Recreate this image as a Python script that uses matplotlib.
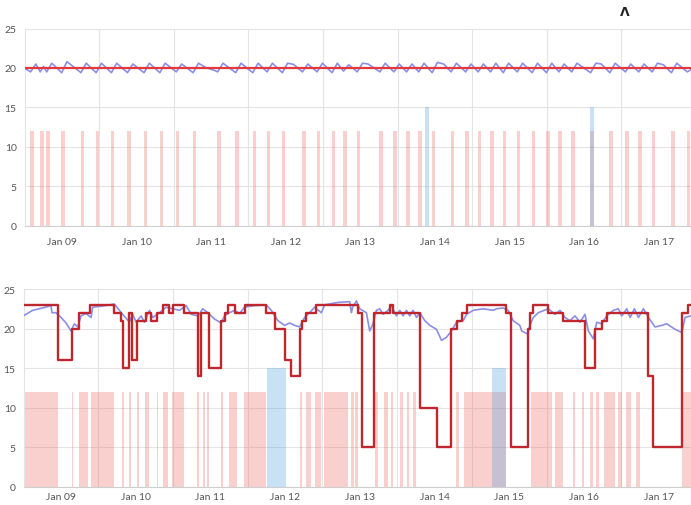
import matplotlib
matplotlib.use("Agg")
import matplotlib.pyplot as plt

# ---------------- data (x in hours from Jan 09 00:00) ----------------
day_labels = ["Jan 09", "Jan 10", "Jan 11", "Jan 12", "Jan 13",
              "Jan 14", "Jan 15", "Jan 16", "Jan 17"]
day_ticks = [0, 24, 48, 72, 96, 120, 144, 168, 192]
grid_hours = [12, 36, 60, 84, 108, 132, 156, 180]
y_ticks = [0, 5, 10, 15, 20, 25]

# top panel
top_temp_t = [-11.8, -10.1, -8.4, -7.0, -5.9, -4.9, -3.3, -0.1, 1.6, 6.1, 7.8,
              11.0, 12.7, 15.9, 17.6, 21.1, 22.8, 26.4, 28.1, 31.5, 33.2, 36.8,
              38.5, 42.2, 43.9, 46.5, 49.0, 50.1, 51.8, 55.9, 57.6, 61.4, 63.1,
              66.0, 67.7, 70.9, 72.6, 74.5, 77.4, 79.1, 82.1, 83.8, 86.9, 88.6,
              90.6, 92.3, 95.0, 96.7, 98.5, 102.3, 104.0, 106.8, 108.5, 110.9,
              112.6, 114.8, 116.5, 119.1, 120.8, 122.8, 125.2, 126.9, 129.9,
              131.6, 133.9, 135.6, 137.9, 139.6, 142.0, 143.7, 146.5, 148.2,
              151.3, 153.0, 155.9, 157.6, 159.9, 161.6, 164.0, 165.7, 170.1,
              171.8, 173.5, 176.3, 178.0, 181.3, 183.0, 185.6, 187.3, 189.9,
              191.6, 193.5, 196.1, 197.8, 201.2, 202.5]
top_temp_v = [19.9, 19.5, 20.5, 19.5, 20.2, 19.5, 20.6, 19.4, 20.8, 19.4, 20.6,
              19.4, 20.6, 19.4, 20.6, 19.4, 20.5, 19.4, 20.6, 19.4, 20.6, 19.5,
              20.5, 19.4, 20.6, 20.0, 19.7, 19.5, 20.6, 19.4, 20.6, 19.4, 20.6,
              19.5, 20.6, 19.4, 20.6, 20.45, 19.5, 20.5, 19.5, 20.6, 19.4, 20.6,
              19.6, 20.4, 19.5, 20.6, 20.5, 19.5, 20.6, 19.5, 20.5, 19.5,
              20.5, 19.5, 20.6, 19.4, 20.7, 20.5, 19.5, 20.6, 19.5,
              20.5, 19.5, 20.5, 19.5, 20.6, 19.4, 20.6, 19.5, 20.6,
              19.4, 20.6, 19.4, 20.6, 19.5, 20.5, 19.5, 20.6, 19.4,
              20.6, 20.5, 19.4, 20.6, 19.5, 20.5, 19.5, 20.5, 19.5,
              20.6, 20.4, 19.4, 20.6, 19.5, 19.8]
top_setpoint_t = [-12, 202.5]
top_setpoint_v = [20, 20]
top_heat_centers = [-9.65, -6.43, -4.50, 0.32, 6.53, 11.45, 16.28, 21.55, 26.80,
                    31.94, 37.19, 42.66, 50.50, 56.29, 61.86, 66.46, 71.28,
                    77.85, 82.54, 87.37, 91.00, 95.41, 102.71, 107.22, 111.30,
                    115.26, 119.54, 125.65, 130.28, 134.33, 138.32, 142.38,
                    146.88, 151.71, 156.34, 160.30, 164.38, 170.49, 176.70,
                    181.75, 186.03, 190.31, 196.55, 201.56]
top_heat_level = 12
top_cool_centers = [117.4, 170.5]
top_cool_level = 15

# bottom panel
bot_set_t = [-12, -1.09, 3.47, 5.89, 9.43, 17.15, 19.30, 20.04, 21.97, 22.71,
             24.32, 27.34, 28.95, 30.75, 32.68, 34.84, 35.90, 39.66, 43.94,
             45.04, 47.38, 51.47, 52.53, 53.50, 55.75, 58.97, 65.94, 68.61,
             71.83, 73.76, 76.65, 77.29, 78.81, 81.80, 95.41, 96.83, 100.56,
             105.61, 106.58, 115.48, 120.82, 125.14, 127.07, 128.67, 130.38,
             142.92, 144.44, 149.90, 150.64, 151.77, 156.53, 161.36, 168.34,
             171.55, 173.71, 175.32, 188.70, 190.31, 199.44, 201.47, 202.5]
bot_set_v = [23, 16, 20, 22, 23, 22, 21, 15, 22, 16,
             21, 22, 21, 22, 23, 22, 23, 22, 14,
             22, 15, 21, 22, 23, 22, 23, 22, 20,
             16, 14, 20, 21, 22, 23, 22, 5, 22,
             23, 22, 10, 5, 20, 21, 22, 23,
             22, 5, 20, 22, 23, 22, 21, 15,
             20, 21, 22, 14, 5, 22, 23, 23]

bot_temp_t = [-12.13, -9.14, -5.92, -3.22, -2.90, -1.61, 0.0, 1.61, 3.22, 4.28,
              5.34, 6.43, 8.04, 9.65, 10.17, 13.38, 17.15, 18.75, 20.68, 21.97,
              23.03, 24.13, 25.73, 26.80, 28.40, 29.47, 31.62, 33.78, 35.90,
              38.05, 40.21, 41.82, 43.94, 45.55, 47.16, 49.31, 51.47, 52.53,
              54.14, 55.75, 57.36, 58.97, 62.18, 65.94, 67.55, 69.68, 71.83,
              73.44, 75.05, 76.65, 78.26, 79.87, 81.48, 83.64, 84.70, 88.98,
              92.74, 93.29, 93.70, 94.90, 95.96, 98.11, 99.17, 100.23, 101.33,
              102.39, 103.45, 105.06, 106.15, 107.76, 108.83, 109.89, 110.98,
              112.04, 113.10, 114.20, 115.26, 116.87, 118.47, 120.63, 122.24,
              123.85, 125.46, 127.07, 129.19, 130.28, 132.40, 135.62, 138.84,
              139.93, 142.05, 143.66, 145.27, 147.42, 148.0, 149.90, 150.64,
              151.71, 153.32, 156.53, 158.69, 160.30, 161.91, 163.52, 165.13,
              166.74, 168.34, 169.41, 171.02, 172.11, 173.71, 175.32, 177.45,
              179.06, 180.16, 181.76, 182.83, 184.21, 185.50, 187.11, 188.70,
              190.86, 193.01, 194.62, 197.29, 199.44, 200.50, 202.43]
bot_temp_v = [21.6, 22.3, 22.6, 22.9, 22.0, 22.0, 21.4, 20.7, 19.7, 20.6,
              20.2, 21.6, 21.9, 21.4, 22.7, 22.85, 23.1, 22.3, 21.4, 20.8,
              21.8, 20.8, 21.6, 20.8, 22.3, 21.4, 22.0, 22.7, 22.5,
              22.3, 22.9, 21.8, 21.6, 22.5, 22.0, 21.2, 20.7, 21.6,
              22.0, 22.3, 21.9, 22.7, 22.9, 23.0, 22.3, 21.0, 20.4,
              20.7, 20.4, 20.2, 21.4, 22.0, 22.7, 22.0, 23.0, 23.3,
              23.4, 22.0, 22.7, 23.5, 22.5, 22.0, 19.7, 20.6, 22.3,
              22.5, 21.8, 22.3, 22.9, 21.6, 22.3, 21.6, 22.3,
              21.6, 22.3, 21.4, 22.0, 21.0, 20.4, 19.9, 18.5,
              18.9, 19.7, 20.8, 21.0, 21.8, 22.3, 22.5, 22.3,
              22.5, 22.6, 22.3, 21.0, 20.4, 19.7, 19.3, 20.4,
              21.4, 22.0, 22.5, 21.8, 22.3, 21.4, 21.0, 21.6,
              20.8, 21.8, 19.7, 18.7, 20.8, 20.6, 21.6, 22.3,
              22.5, 21.6, 22.5, 21.4, 22.5, 21.4, 22.5, 21.4,
              20.2, 20.4, 20.6, 19.9, 19.5, 21.4, 21.6]

bot_heat_start = [-12.2, 3.41, 5.89, 9.65, 19.62, 21.97, 24.32, 27.12, 30.75,
                  32.68, 35.71, 43.68, 45.55, 46.97, 51.47, 53.91, 58.80, 76.82,
                  78.81, 81.48, 84.47, 93.29, 94.35, 100.94, 103.68, 106.16,
                  108.98, 111.08, 113.23, 127.0, 129.57, 151.12, 158.85, 164.48,
                  167.4, 169.93, 171.85, 174.41, 179.09, 181.65, 184.81, 199.44]
bot_heat_end = [-1.09, 3.96, 8.56, 16.92, 20.14, 22.61, 24.96, 28.18, 31.30,
                34.29, 39.66, 44.17, 46.10, 47.54, 51.98, 56.55, 65.94, 77.46,
                80.42, 83.64, 92.19, 94.03, 95.41, 101.84, 105.06, 106.80,
                109.79, 111.95, 114.07, 127.9, 142.92, 157.72, 161.36, 165.28,
                168.1, 170.83, 172.96, 178.14, 180.21, 183.26, 185.94, 202.6]
bot_heat_level = 12
bot_cool_start = [66.20, 138.32]
bot_cool_end = [72.15, 142.92]
bot_cool_level = 15

# ---------------- styling ----------------
PINK = (0.93, 0.40, 0.36, 0.30)
BLUE = (0.30, 0.62, 0.87, 0.30)
TEMP = "#8b8fe6"
RED_TOP = "#e5383b"
RED_BOT = "#c0262d"
GRID = "#e4e4e4"
TXT = "#555555"

plt.rcParams["font.family"] = ["Lato", "DejaVu Sans"]

fig = plt.figure(figsize=(6.91, 5.06), dpi=100)
ax1 = fig.add_axes([25 / 691, 1 - 226.7 / 506, 1 - 25 / 691, 197.2 / 506])
ax2 = fig.add_axes([24 / 691, 1 - 487.7 / 506, 1 - 24 / 691, 197.7 / 506])

XMIN, XMAX = -11.9, 202.4


def style(ax, xpad):
    ax.set_xlim(XMIN, XMAX)
    ax.set_ylim(0, 25)
    ax.set_yticks(y_ticks)
    ax.set_xticks(day_ticks)
    ax.set_xticklabels(day_labels)
    ax.set_xticks(grid_hours, minor=True)
    ax.tick_params(axis="both", which="both", length=0, labelsize=7.5,
                   colors=TXT)
    ax.tick_params(axis="x", pad=xpad)
    ax.tick_params(axis="y", pad=6)
    ax.grid(False)
    ax.grid(True, axis="y", which="major", color=GRID, lw=0.8)
    ax.grid(True, axis="x", which="minor", color=GRID, lw=0.8)
    ax.set_axisbelow(True)
    for s in ["top", "right"]:
        ax.spines[s].set_visible(False)
    ax.spines["left"].set_color(GRID)
    ax.spines["bottom"].set_color("#cfcfcf")
    ax.spines["left"].set_linewidth(0.8)
    ax.spines["bottom"].set_linewidth(0.8)


# top
style(ax1, 8)
ax1.bar(top_heat_centers, [top_heat_level] * len(top_heat_centers), width=1.1,
        color=PINK, linewidth=0, zorder=1)
ax1.bar(top_cool_centers, [top_cool_level] * len(top_cool_centers), width=1.2,
        color=BLUE, linewidth=0, zorder=1)
ax1.plot(top_temp_t, top_temp_v, color=TEMP, lw=1.2, zorder=3)
ax1.plot(top_setpoint_t, top_setpoint_v, color=RED_TOP, lw=1.6, zorder=4)

# bottom
style(ax2, 4)
ax2.bar(bot_heat_start, [bot_heat_level] * len(bot_heat_start),
        width=[e - s for s, e in zip(bot_heat_start, bot_heat_end)],
        align="edge", color=PINK, linewidth=0, zorder=1)
ax2.bar(bot_cool_start, [bot_cool_level] * len(bot_cool_start),
        width=[e - s for s, e in zip(bot_cool_start, bot_cool_end)],
        align="edge", color=BLUE, linewidth=0, zorder=1)
ax2.plot(bot_temp_t, bot_temp_v, color=TEMP, lw=1.2, zorder=3)
ax2.step(bot_set_t, bot_set_v, where="post", color=RED_BOT, lw=1.7, zorder=4)

fig.text(625 / 691, 1 - 12 / 506, "Λ", ha="center", va="center",
         fontsize=9, fontweight="bold", color="#222222",
         family=["DejaVu Sans"])

fig.savefig("out.png", dpi=100)
